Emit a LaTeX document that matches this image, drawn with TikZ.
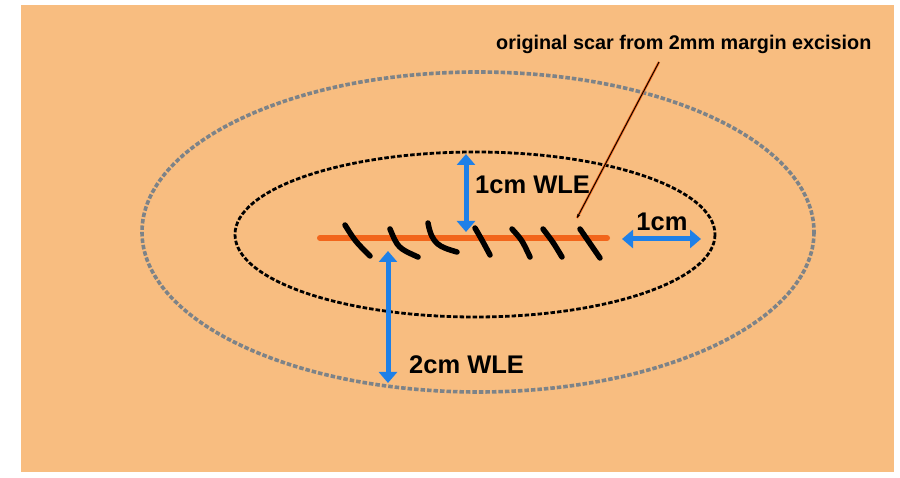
\documentclass[tikz,border=0pt]{standalone}
\usepackage{fontspec}
\setmainfont{Liberation Sans}
\usetikzlibrary{arrows.meta}
\definecolor{skin}{HTML}{F8BD80}
\definecolor{scar}{HTML}{F2651B}
\definecolor{bluearrow}{HTML}{1E80E8}
\definecolor{grayline}{HTML}{7D8388}
\tikzset{
  biglabel/.style={font=\bfseries\fontsize{25.5}{28}\selectfont, inner sep=0pt, text=black},
  smalllabel/.style={font=\bfseries\fontsize{19.8}{22}\selectfont, inner sep=0pt, text=black},
  measure/.style={draw=bluearrow, line width=5pt, {Triangle[width=18pt,length=11pt]}-{Triangle[width=18pt,length=11pt]}},
  stitch/.style={draw=black, line width=5.5pt, line cap=round},
  outerring/.style={draw=grayline, line width=3.6pt, dash pattern=on 4.5pt off 2pt},
  innerring/.style={draw=black, line width=2.8pt, dash pattern=on 4.5pt off 2pt},
}
\begin{document}
\begin{tikzpicture}[x=1pt,y=-1pt]
\useasboundingbox (0,0) rectangle (900,478);
\fill[white] (0,0) rectangle (900,478);
\fill[skin] (21,5) rectangle (894,472);
% margins
\draw[outerring] (478,232) ellipse [x radius=336, y radius=160];
\draw[innerring] (475,234.5) ellipse [x radius=240, y radius=82.5];
% original scar
\coordinate (scarL) at (320,238);
\coordinate (scarR) at (607,238);
\draw[scar, line width=6pt, line cap=round] (scarL) -- (scarR);
% stitches
\draw[stitch] (345,225) .. controls (355,241) .. (370,256);
\draw[stitch] (390,229) .. controls (398,248) .. (418,257);
\draw[stitch] (428,223) .. controls (432,245) and (440,247) .. (457,252);
\draw[stitch] (475,228) .. controls (482,240) .. (490,255);
\draw[stitch] (512,229) .. controls (522,240) .. (530,257);
\draw[stitch] (543,229) .. controls (553,242) .. (562,257);
\draw[stitch] (580,229) .. controls (590,243) .. (600,258);
% measurement arrows
\coordinate (a1top) at (466,154);
\coordinate (a1bot) at (466,232);
\draw[measure] (a1top) -- (a1bot);
\coordinate (a2top) at (388,251);
\coordinate (a2bot) at (388,383);
\draw[measure] (a2top) -- (a2bot);
\coordinate (a3l) at (622,239);
\coordinate (a3r) at (701,239);
\draw[measure] (a3l) -- (a3r);
% labels
\node[biglabel, anchor=west] (wle1) at (475,185) {1cm WLE};
\node[biglabel] (onecm) at (662,222) {1cm};
\node[biglabel, anchor=west] (wle2) at (409,365) {2cm WLE};
\node[smalllabel, anchor=base west] (orig) at (496,50) {original scar from 2mm margin excision};
% leader
\coordinate (ldstart) at (659,62);
\coordinate (ldend) at (577,218);
\draw[scar, line width=2.4pt] (ldstart) -- (ldend);
\draw[black, line width=0.9pt, -{Stealth[length=4pt,width=3pt]}] (ldstart) -- (ldend);
\end{tikzpicture}
\end{document}
